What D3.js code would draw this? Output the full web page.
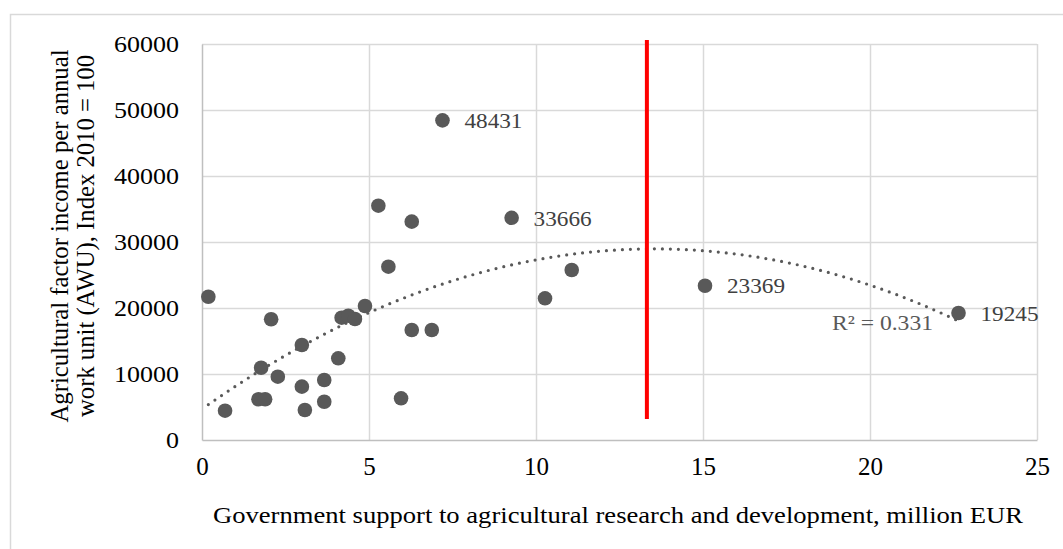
<!DOCTYPE html>
<html><head><meta charset="utf-8">
<script src="https://cdn.jsdelivr.net/npm/d3@7"></script>
<style>html,body{margin:0;padding:0;background:#fff;}svg{display:block;}</style>
</head><body>
<script>
// ---- data ----
const supportMEUR = [0.19, 0.69, 1.69, 1.89, 1.77, 2.07, 2.27, 2.99, 2.99, 3.08, 3.66, 3.66, 4.08, 4.18, 4.38, 4.58, 4.88, 5.96, 6.28, 6.88, 5.28, 6.28, 5.58, 7.2, 9.27, 10.27, 11.07, 15.06, 22.65];
const incomeAWU   = [21710, 4440, 6170, 6170, 10950, 18290, 9590, 14390, 8080, 4550, 9090, 5800, 12380, 18530, 18830, 18330, 20300, 6320, 16670, 16670, 35500, 33080, 26260, 48431, 33666, 21470, 25760, 23369, 19245];
const labelledValues = [48431, 33666, 23369, 19245];
const xTicks = [0, 5, 10, 15, 20, 25];
const yTicks = [0, 10000, 20000, 30000, 40000, 50000, 60000];
const thresholdX = [13.32, 13.32];
const thresholdY = [3180, 60600];
const r2Text = "R² = 0.331";
const xTitle = "Government support to agricultural research and development, million EUR";
const yTitleLines = ["Agricultural factor income per annual", "work unit (AWU), Index 2010 = 100"];

// ---- layout ----
const W = 1063, H = 549;
const svg = d3.select("body").append("svg").attr("width", W).attr("height", H);
const x = d3.scaleLinear().domain([0, 25]).range([202, 1037]);
const y = d3.scaleLinear().domain([0, 60000]).range([440, 44]);

// outer frame
svg.append("rect").attr("x", 10.5).attr("y", 14.5).attr("width", 1100).attr("height", 600)
  .attr("fill", "none").attr("stroke", "#d9d9d9").attr("stroke-width", 1.5);

// gridlines
const grid = svg.append("g");
grid.selectAll("line.h").data(yTicks.filter(d => d > 0)).join("line")
  .attr("x1", x(0)).attr("x2", x(25)).attr("y1", d => Math.round(y(d)) + 0.5).attr("y2", d => Math.round(y(d)) + 0.5)
  .attr("stroke", "#d9d9d9").attr("stroke-width", 1.5);
grid.selectAll("line.v").data(xTicks.filter(d => d > 0)).join("line")
  .attr("y1", y(0)).attr("y2", y(60000)).attr("x1", d => Math.round(x(d)) + 0.5).attr("x2", d => Math.round(x(d)) + 0.5)
  .attr("stroke", "#d9d9d9").attr("stroke-width", 1.5);

// axes
const xAxis = d3.axisBottom(x).tickValues(xTicks).tickSize(0).tickPadding(12).tickFormat(d3.format("d"));
const yAxis = d3.axisLeft(y).tickValues(yTicks).tickSize(0).tickPadding(23).tickFormat(d3.format("d"));
const gx = svg.append("g").attr("transform", `translate(0,${y(0)})`).call(xAxis);
const gy = svg.append("g").attr("transform", `translate(${x(0)},0)`).call(yAxis);
gx.select(".domain").attr("stroke", "#bfbfbf").attr("stroke-width", 1.5);
gy.select(".domain").attr("stroke", "#bfbfbf").attr("stroke-width", 1.5);
gx.selectAll("text").attr("font-family", "Liberation Serif, serif").attr("font-size", 25).attr("fill", "#000").attr("dy", "0.9em");
gy.selectAll("text").attr("font-family", "Liberation Serif, serif").attr("font-size", 23).attr("fill", "#000").attr("dy", "0.34em")
  .attr("textLength", d => String(d).length * 13).attr("lengthAdjust", "spacingAndGlyphs");

// axis titles
svg.append("text").attr("x", 618).attr("y", 523).attr("text-anchor", "middle")
  .attr("font-family", "Liberation Serif, serif").attr("font-size", 24).attr("fill", "#000")
  .attr("textLength", 810).attr("lengthAdjust", "spacingAndGlyphs").text(xTitle);
const yt = svg.append("g");
yTitleLines.forEach((t, i) => {
  yt.append("text").attr("transform", `translate(${[68, 94][i]},${236}) rotate(-90)`)
    .attr("text-anchor", "middle").attr("font-family", "Liberation Serif, serif").attr("font-size", 25).attr("fill", "#000")
    .attr("textLength", [373, 362][i]).attr("lengthAdjust", "spacingAndGlyphs").text(t);
});

// quadratic least-squares trendline
const pts = supportMEUR.map((v, i) => [v, incomeAWU[i]]);
function quadFit(p) {
  let S = Array.from({length: 5}, () => 0), T = [0, 0, 0];
  p.forEach(([a, b]) => { for (let k = 0; k < 5; k++) S[k] += a ** k; for (let k = 0; k < 3; k++) T[k] += b * a ** k; });
  const M = [[S[0], S[1], S[2], T[0]], [S[1], S[2], S[3], T[1]], [S[2], S[3], S[4], T[2]]];
  for (let i = 0; i < 3; i++) {
    for (let j = i + 1; j < 3; j++) { const f = M[j][i] / M[i][i]; for (let k = i; k < 4; k++) M[j][k] -= f * M[i][k]; }
  }
  const c = [0, 0, 0];
  for (let i = 2; i >= 0; i--) { let s = M[i][3]; for (let k = i + 1; k < 3; k++) s -= M[i][k] * c[k]; c[i] = s / M[i][i]; }
  return c;
}
const coef = quadFit(pts);
const [xmin, xmax] = d3.extent(supportMEUR);
const curve = d3.range(0, 201).map(i => { const xv = xmin + (xmax - xmin) * i / 200; return [xv, coef[0] + coef[1] * xv + coef[2] * xv * xv]; });
svg.append("path").datum(curve)
  .attr("d", d3.line().x(d => x(d[0])).y(d => y(d[1])))
  .attr("fill", "none").attr("stroke", "#595959").attr("stroke-width", 3.2)
  .attr("stroke-linecap", "round").attr("stroke-dasharray", "0,8");

// threshold red line
svg.append("line").attr("x1", x(thresholdX[0])).attr("x2", x(thresholdX[1]))
  .attr("y1", y(thresholdY[0])).attr("y2", y(thresholdY[1]))
  .attr("stroke", "#ff0000").attr("stroke-width", 4);

// points
svg.append("g").selectAll("circle").data(pts).join("circle")
  .attr("cx", d => x(d[0])).attr("cy", d => y(d[1])).attr("r", 7.3).attr("fill", "#595959");

// data labels
svg.append("g").selectAll("text").data(pts.filter(d => labelledValues.includes(d[1]))).join("text")
  .attr("x", d => x(d[0]) + 22).attr("y", d => y(d[1])).attr("dy", "0.35em")
  .attr("font-family", "Liberation Serif, serif").attr("font-size", 22).attr("fill", "#404040")
  .attr("textLength", 58).attr("lengthAdjust", "spacingAndGlyphs")
  .text(d => d[1]);

// R² label
svg.append("text").attr("x", 832).attr("y", 330)
  .attr("font-family", "Liberation Serif, serif").attr("font-size", 21).attr("fill", "#595959")
  .attr("textLength", 101).attr("lengthAdjust", "spacingAndGlyphs").text(r2Text);
</script>
</body></html>
